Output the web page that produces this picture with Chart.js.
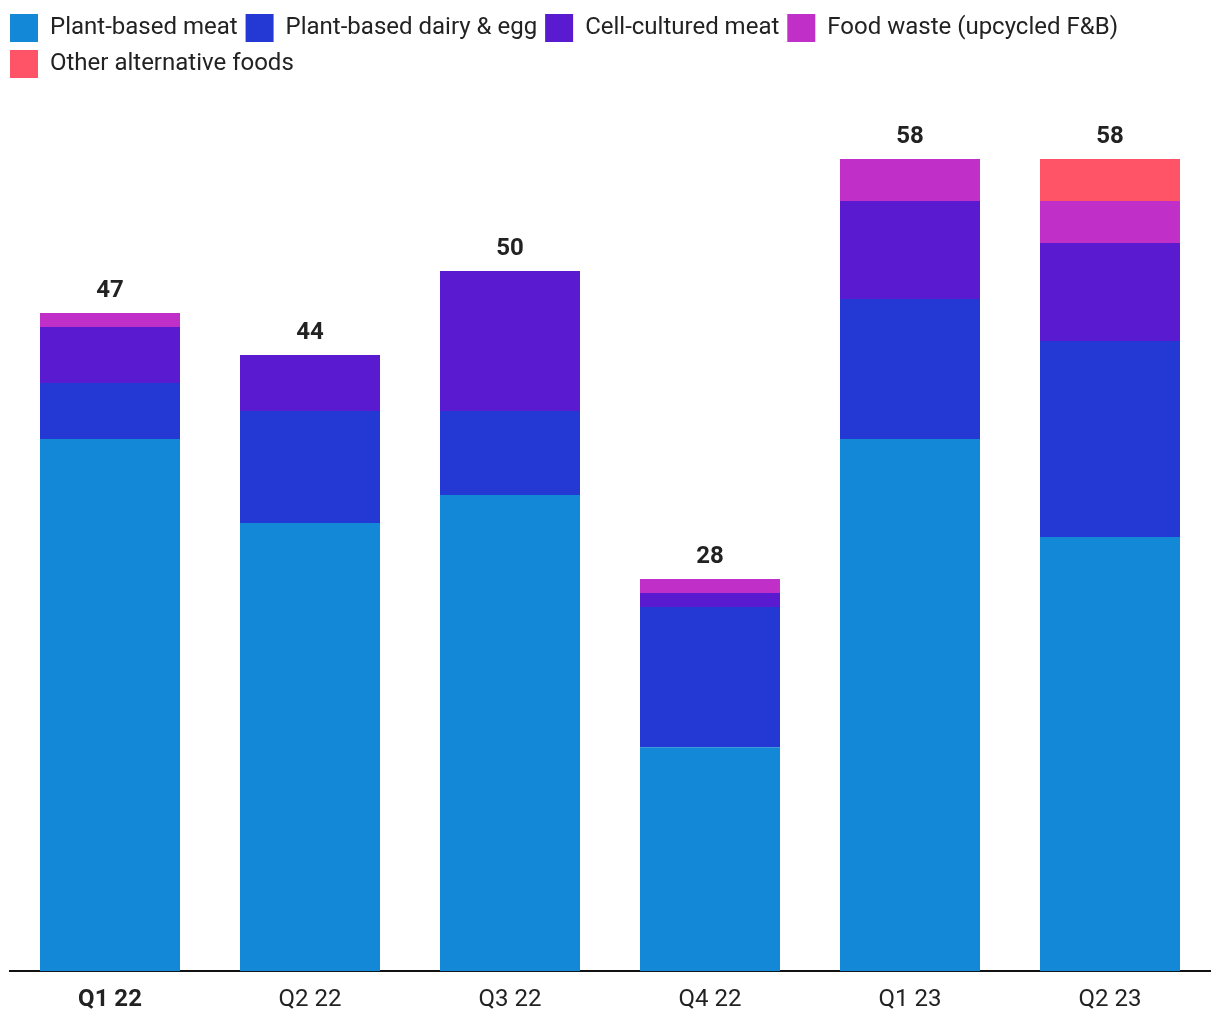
<!DOCTYPE html>
<html>
<head>
<meta charset="utf-8">
<script src="https://cdn.jsdelivr.net/npm/chart.js@4"></script>
<style>
  html, body { margin: 0; padding: 0; background: #fff; }
  #wrap { width: 1220px; height: 1020px; }
</style>
</head>
<body>
<div id="wrap"><canvas id="c" width="1220" height="1020"></canvas></div>
<script>
const categories = ['Q1 22', 'Q2 22', 'Q3 22', 'Q4 22', 'Q1 23', 'Q2 23'];
const seriesNames = ['Plant-based meat', 'Plant-based dairy & egg', 'Cell-cultured meat', 'Food waste (upcycled F&B)', 'Other alternative foods'];
const plantMeat = [38, 32, 34, 16, 38, 31];
const plantDairy = [4, 8, 6, 10, 10, 14];
const cellMeat = [4, 4, 10, 1, 7, 7];
const foodWaste = [1, 0, 0, 1, 3, 3];
const otherAlt = [0, 0, 0, 0, 0, 3];
const seriesColors = ['#1288d6', '#2439d4', '#5a1ad0', '#c030c8', '#ff5467'];

const seriesValues = [plantMeat, plantDairy, cellMeat, foodWaste, otherAlt];
const totals = categories.map((_, i) => seriesValues.reduce((s, arr) => s + arr[i], 0));

Chart.defaults.font.family = 'Roboto';
Chart.defaults.color = '#222';

const totalLabels = {
  id: 'totalLabels',
  afterDatasetsDraw(chart) {
    const { ctx, scales } = chart;
    ctx.save();
    ctx.font = 'bold 24px Roboto';
    ctx.fillStyle = '#222';
    ctx.textAlign = 'center';
    ctx.textBaseline = 'middle';
    totals.forEach((t, i) => {
      const x = scales.x.getPixelForValue(i);
      const y = scales.y.getPixelForValue(t);
      ctx.fillText(String(t), x, y - 22);
    });
    ctx.restore();
  }
};

const legendSpacer = {
  id: 'legendSpacer',
  beforeInit(chart) {
    const origFit = chart.legend.fit;
    chart.legend.fit = function () {
      origFit.call(this);
      this.height += 15;
    };
  }
};

new Chart(document.getElementById('c'), {
  type: 'bar',
  data: {
    labels: categories,
    datasets: seriesNames.map((name, k) => ({
      label: name,
      data: seriesValues[k],
      backgroundColor: seriesColors[k],
      borderWidth: 0,
      barPercentage: 0.7,
      categoryPercentage: 1.0
    }))
  },
  options: {
    responsive: false,
    animation: false,
    events: [],
    layout: { padding: { left: 2, right: 10, top: 6, bottom: -8 } },
    plugins: {
      legend: {
        position: 'top',
        align: 'start',
        labels: {
          boxWidth: 28,
          boxHeight: 28,
          padding: 8,
          color: '#222',
          font: { size: 24, family: 'Roboto' }
        }
      },
      tooltip: { enabled: false }
    },
    scales: {
      x: {
        stacked: true,
        grid: { display: false, drawTicks: false },
        border: { display: true, color: '#111', width: 2 },
        ticks: {
          padding: 14,
          color: '#222',
          font: (ctx) => ({ size: 24, family: 'Roboto', weight: ctx.index === 0 ? 'bold' : 'normal' })
        }
      },
      y: {
        stacked: true,
        min: 0,
        max: 62,
        grid: { display: false },
        border: { display: false },
        ticks: { display: false },
        afterFit(scale) { scale.width = 8; }
      }
    }
  },
  plugins: [totalLabels, legendSpacer]
});
</script>
</body>
</html>
